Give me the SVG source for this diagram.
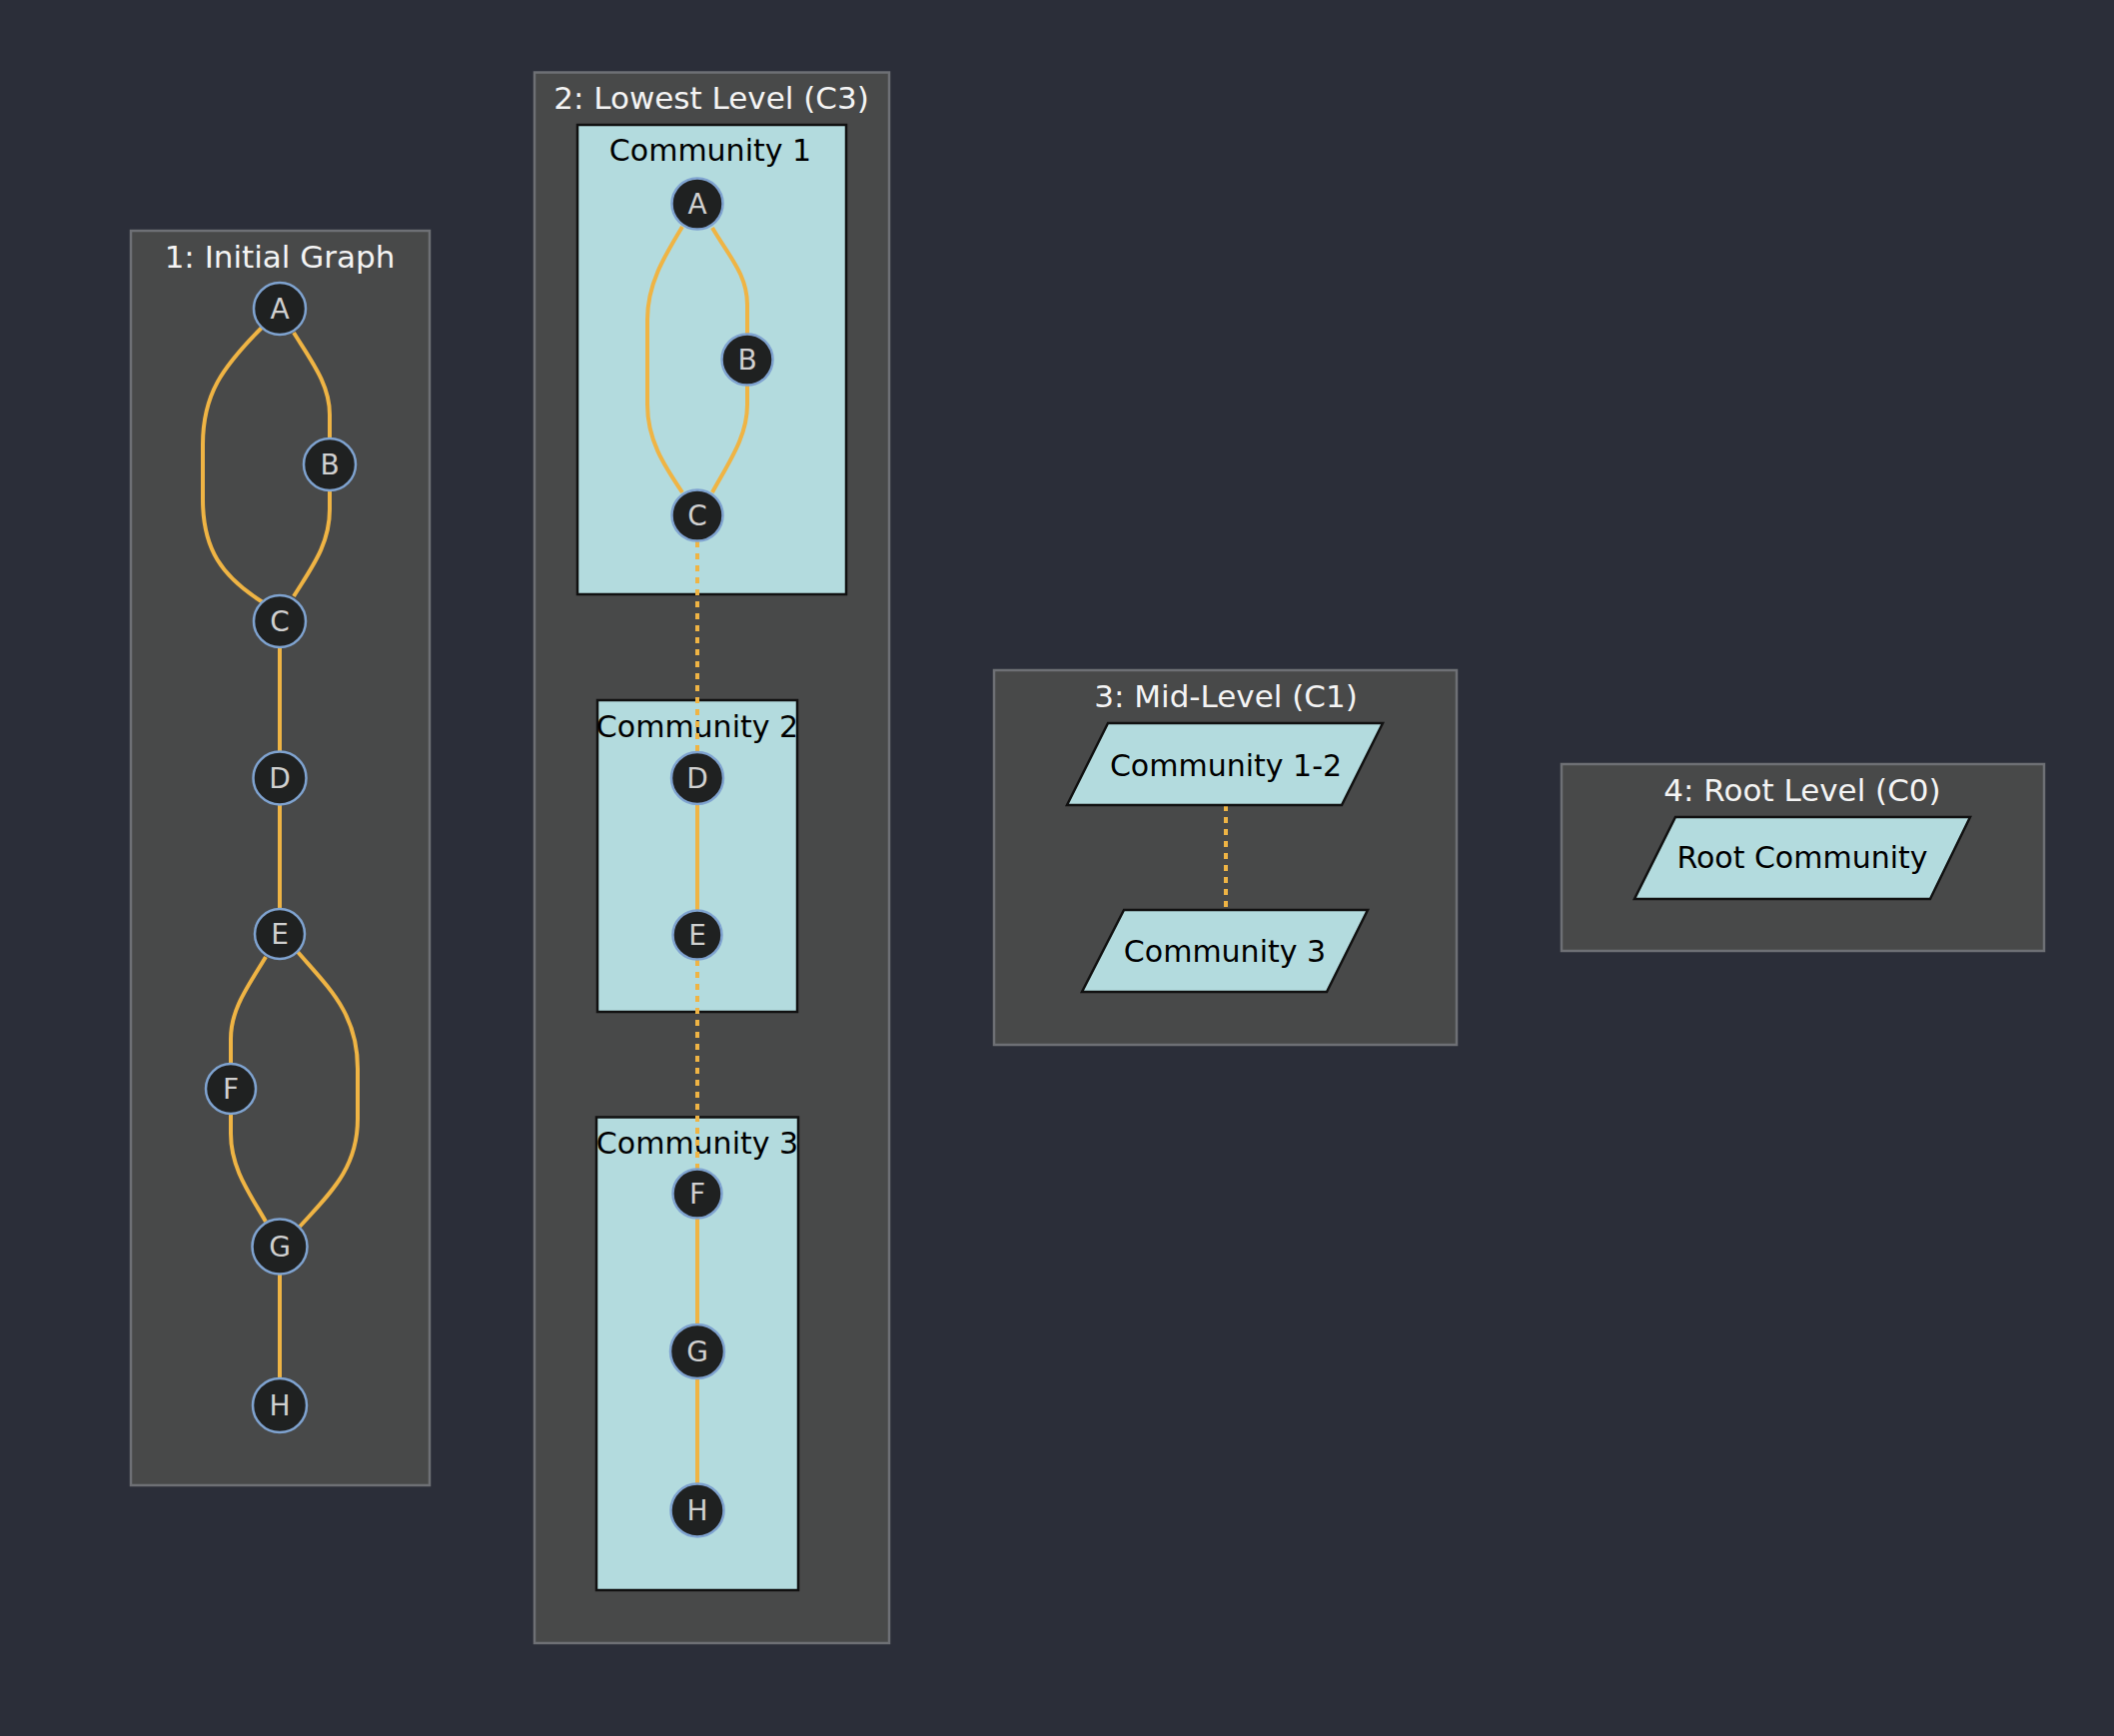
<svg xmlns="http://www.w3.org/2000/svg" width="2116" height="1738" viewBox="0 0 2116 1738">
<style>
.bg{fill:#2b2e39}
.cluster{fill:#484949;stroke:#6e7075;stroke-width:2.5}
.comm{fill:#b3dbde;stroke:#111;stroke-width:2.5}
.para{fill:#b3dbde;stroke:#111;stroke-width:2.5}
.ctitle{font-family:"DejaVu Sans",sans-serif;font-size:31px;fill:#f4f4f4;text-anchor:middle}
.clabel{font-family:"DejaVu Sans",sans-serif;font-size:30px;fill:#000;text-anchor:middle}
.node circle{fill:#1f2121;stroke:#7fa3d0;stroke-width:2.5}
.node text{font-family:"DejaVu Sans",sans-serif;font-size:28px;fill:#d0d0d0;text-anchor:middle}
.edge{fill:none;stroke:#efb444;stroke-width:4}
.dot{fill:none;stroke:#efb444;stroke-width:4;stroke-dasharray:6 6}
</style>
<rect class="bg" x="0" y="0" width="2116" height="1738"/>

<g id="cluster-1">
<rect class="cluster" x="131" y="231" width="299" height="1256"/>
<text class="ctitle" x="280" y="268">1: Initial Graph</text>
</g>
<g id="cluster-2">
<rect class="cluster" x="535" y="72.5" width="355" height="1572.5"/>
<text class="ctitle" x="712" y="109">2: Lowest Level (C3)</text>
</g>
<g id="community-1">
<rect class="comm" x="578" y="125" width="269" height="470"/>
<text class="clabel" x="711" y="161">Community 1</text>
</g>
<g id="community-2">
<rect class="comm" x="598" y="701" width="200" height="312"/>
<text class="clabel" x="698" y="738">Community 2</text>
</g>
<g id="community-3">
<rect class="comm" x="597" y="1118.5" width="202" height="473.5"/>
<text class="clabel" x="698" y="1155">Community 3</text>
</g>
<g id="cluster-3">
<rect class="cluster" x="995" y="671" width="463" height="375"/>
<text class="ctitle" x="1227" y="708">3: Mid-Level (C1)</text>
</g>
<g id="cluster-4">
<rect class="cluster" x="1563" y="765" width="483" height="187"/>
<text class="ctitle" x="1804" y="802">4: Root Level (C0)</text>
</g>

<g id="connectors">
<path class="edge" d="M263,327 C222,368 203,395 203,445 L203,500 C203,550 222,577 263,603"/>
<path class="edge" d="M294,333 C312,362 330,385 330,415 L330,439"/>
<path class="edge" d="M330,491 L330,510 C330,545 312,568 294,597"/>
<path class="edge" d="M280,648 L280,752"/>
<path class="edge" d="M280,805 L280,910"/>
<path class="edge" d="M266,958 C248,988 231,1010 231,1040 L231,1066"/>
<path class="edge" d="M298,953 C330,990 358,1015 358,1070 L358,1120 C358,1170 330,1195 300,1228"/>
<path class="edge" d="M231,1115 L231,1135 C231,1170 250,1195 266,1223"/>
<path class="edge" d="M280,1276 L280,1380"/>

<path class="edge" d="M683,227 C664,258 648,285 648,320 L648,405 C648,440 664,465 683,493"/>
<path class="edge" d="M713,228 C730,257 748,275 748,305 L748,334"/>
<path class="edge" d="M748,386 L748,405 C748,437 730,462 713,493"/>
<path class="dot" d="M698,542 L698,753"/>
<path class="edge" d="M698,805 L698,911"/>
<path class="dot" d="M698,961 L698,1170"/>
<path class="edge" d="M698,1220 L698,1326"/>
<path class="edge" d="M698,1380 L698,1485"/>

<path class="dot" d="M1227,806 L1227,911"/>
</g>

<g id="n1-A" class="node"><circle cx="280" cy="309" r="26"/><text x="280" y="319">A</text></g>
<g id="n1-B" class="node"><circle cx="330" cy="465" r="26"/><text x="330" y="475">B</text></g>
<g id="n1-C" class="node"><circle cx="280" cy="622" r="26"/><text x="280" y="632">C</text></g>
<g id="n1-D" class="node"><circle cx="280" cy="779" r="26.5"/><text x="280" y="789">D</text></g>
<g id="n1-E" class="node"><circle cx="280" cy="935" r="25"/><text x="280" y="945">E</text></g>
<g id="n1-F" class="node"><circle cx="231" cy="1090" r="25"/><text x="231" y="1100">F</text></g>
<g id="n1-G" class="node"><circle cx="280" cy="1248" r="27.5"/><text x="280" y="1258">G</text></g>
<g id="n1-H" class="node"><circle cx="280" cy="1407" r="27"/><text x="280" y="1417">H</text></g>

<g id="n2-A" class="node"><circle cx="698" cy="204" r="25.5"/><text x="698" y="214">A</text></g>
<g id="n2-B" class="node"><circle cx="748" cy="360" r="25.5"/><text x="748" y="370">B</text></g>
<g id="n2-C" class="node"><circle cx="698" cy="516" r="25.5"/><text x="698" y="526">C</text></g>
<g id="n2-D" class="node"><circle cx="698" cy="779" r="26"/><text x="698" y="789">D</text></g>
<g id="n2-E" class="node"><circle cx="698" cy="936" r="24.5"/><text x="698" y="946">E</text></g>
<g id="n2-F" class="node"><circle cx="698" cy="1195" r="24.5"/><text x="698" y="1205">F</text></g>
<g id="n2-G" class="node"><circle cx="698" cy="1353" r="27"/><text x="698" y="1363">G</text></g>
<g id="n2-H" class="node"><circle cx="698" cy="1512" r="26.5"/><text x="698" y="1522">H</text></g>

<g id="c12" class="node-para">
<polygon class="para" points="1109,724 1384,724 1343,806 1068,806"/>
<text class="clabel" x="1227" y="777">Community 1-2</text>
</g>
<g id="c3" class="node-para">
<polygon class="para" points="1125,911 1369,911 1328,993 1083,993"/>
<text class="clabel" x="1226" y="963">Community 3</text>
</g>
<g id="root" class="node-para">
<polygon class="para" points="1677,818 1972,818 1932,900 1636,900"/>
<text class="clabel" x="1804" y="869">Root Community</text>
</g>
</svg>
